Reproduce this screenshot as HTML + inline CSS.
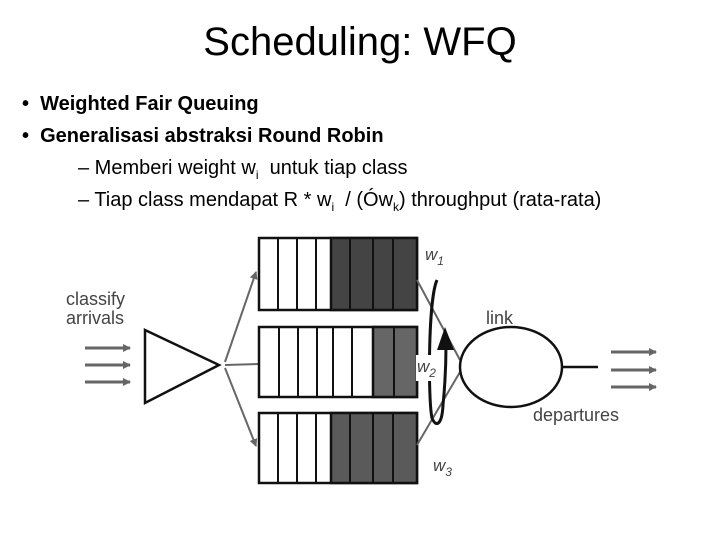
<!DOCTYPE html>
<html><head><meta charset="utf-8"><style>
body{margin:0;width:720px;height:540px;background:#fff;font-family:"Liberation Sans",sans-serif;position:relative;overflow:hidden}
.t{position:absolute;white-space:nowrap;color:#000}
</style></head><body>
<div class="t" style="left:0;width:720px;text-align:center;top:20px;font-size:40px">Scheduling: WFQ</div>
<div class="t" style="left:22px;top:93px;font-size:20px;font-weight:bold">•&nbsp;&nbsp;Weighted Fair Queuing</div>
<div class="t" style="left:22px;top:125px;font-size:20px;font-weight:bold">•&nbsp;&nbsp;Generalisasi abstraksi Round Robin</div>
<div class="t" style="left:78px;top:157px;font-size:20px">– Memberi weight w<sub style="font-size:12px">i</sub>&nbsp; untuk tiap class</div>
<div class="t" style="left:78px;top:189px;font-size:20px">– Tiap class mendapat R * w<sub style="font-size:12px">i</sub>&nbsp; / (Ów<sub style="font-size:12px">k</sub>) throughput (rata-rata)</div>
<svg width="720" height="540" style="position:absolute;left:0;top:0">
<defs><marker id="a" markerWidth="8" markerHeight="8" refX="7" refY="4" orient="auto" markerUnits="userSpaceOnUse"><path d="M0,0L8,4L0,8z" fill="#666"/></marker></defs>
<g font-family="Liberation Sans" font-size="18" fill="#444">
<text x="66" y="305">classify</text><text x="66" y="324">arrivals</text>
<text x="486" y="324">link</text><text x="533" y="421">departures</text>
<text x="425" y="260" font-style="italic" font-size="17">w<tspan font-size="12" dy="5">1</tspan></text>
<text x="433" y="471" font-style="italic" font-size="17">w<tspan font-size="12" dy="5">3</tspan></text>
</g>
<g stroke="#666" stroke-width="3" marker-end="url(#a)">
<line x1="85" y1="348" x2="130" y2="348"/><line x1="85" y1="365" x2="130" y2="365"/><line x1="85" y1="382" x2="130" y2="382"/>
<line x1="611" y1="352" x2="656" y2="352"/><line x1="611" y1="370" x2="656" y2="370"/><line x1="611" y1="387" x2="656" y2="387"/>
</g>
<g stroke="#666" stroke-width="2" marker-end="url(#a)">
<line x1="225" y1="362" x2="256" y2="272"/><line x1="225" y1="365" x2="290" y2="363"/><line x1="225" y1="368" x2="256" y2="446"/>
</g>
<polygon points="145,330 219,365 145,403" fill="#fff" stroke="#111" stroke-width="2.5"/>
<g stroke="#111" stroke-width="2.5">
<rect x="259" y="238" width="158" height="72" fill="#fff"/>
<rect x="331" y="238" width="86" height="72" fill="#444"/>
<rect x="259" y="327" width="158" height="70" fill="#fff"/>
<rect x="373" y="327" width="44" height="70" fill="#666"/>
<rect x="259" y="413" width="158" height="70" fill="#fff"/>
<rect x="331" y="413" width="86" height="70" fill="#5a5a5a"/>
</g>
<g stroke="#111" stroke-width="2">
<path d="M278,238V310M297,238V310M316,238V310M350,238V310M373,238V310M393,238V310"/>
<path d="M279,327V397M298,327V397M317,327V397M333,327V397M352,327V397M394,327V397"/>
<path d="M278,413V483M297,413V483M316,413V483M350,413V483M373,413V483M393,413V483"/>
</g>
<g stroke="#666" stroke-width="2" fill="none"><line x1="417" y1="280" x2="460" y2="360"/><line x1="417" y1="445" x2="460" y2="372"/></g>
<ellipse cx="511" cy="367" rx="51" ry="40" fill="none" stroke="#111" stroke-width="2.5"/>
<line x1="562" y1="367" x2="598" y2="367" stroke="#111" stroke-width="2.5"/>
<path d="M437,280 C428,300 428,400 432,418 C436,428 442,425 443,405 C445,385 446,360 446,345" fill="none" stroke="#111" stroke-width="3"/>
<path d="M445,327 L437,350 L454,350 z" fill="#111"/>
<rect x="416" y="355" width="22" height="26" fill="#fff"/>
<text x="417" y="372" font-family="Liberation Sans" font-style="italic" font-size="17" fill="#444">w<tspan font-size="12" dy="5">2</tspan></text>
</svg>
</body></html>
